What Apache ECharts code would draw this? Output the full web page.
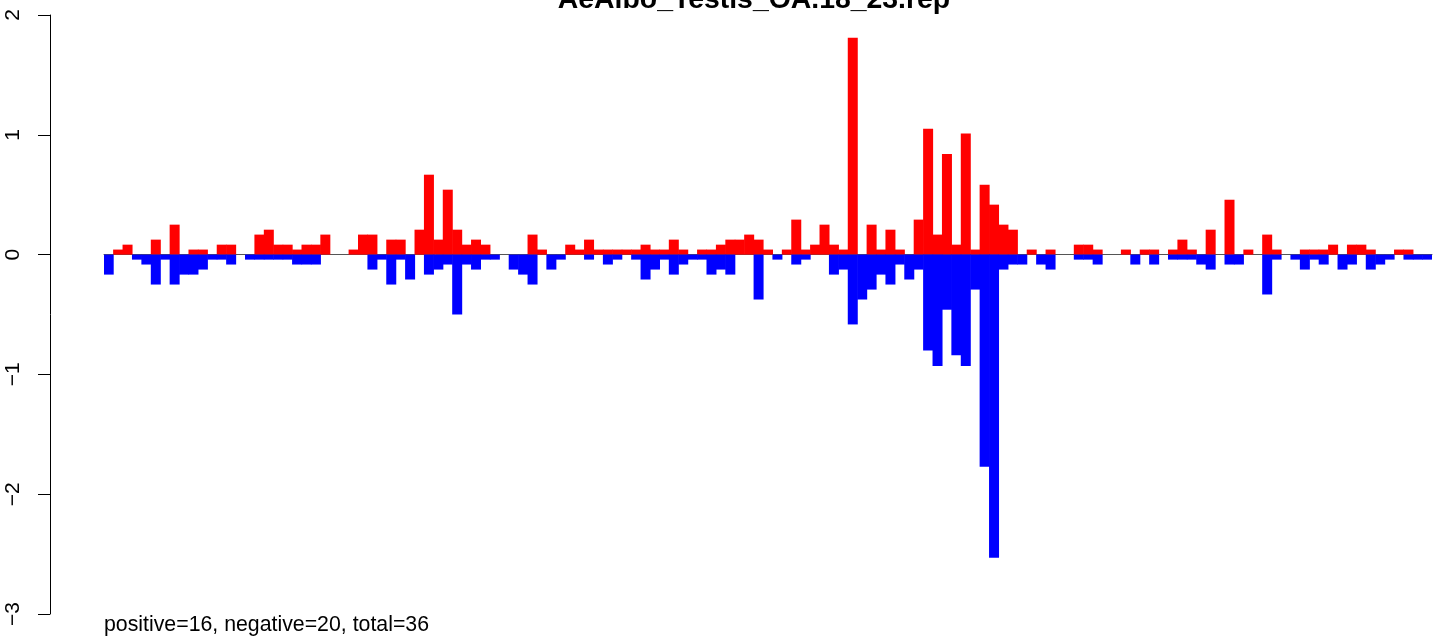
<!DOCTYPE html>
<html>
<head>
<meta charset="utf-8">
<script src="https://cdn.jsdelivr.net/npm/echarts@6/dist/echarts.min.js"></script>
<style>
  html, body { margin: 0; padding: 0; background: #ffffff; }
  #chart { width: 1441px; height: 638px; }
</style>
</head>
<body>
<div id="chart"></div>
<script>
// Values (units of the y axis)
const L = 1 / 24; // smallest step seen in the bars
const positiveLevels = [
  0,1,2,0,0,3,0,6,0,1, 1,0,2,2,0,0,4,5,2,2, 1,2,2,4,0,0,1,4,4,0,
  3,3,0,5,16,3,13,5,2,3, 2,0,0,0,0,4,1,0,0,2, 1,3,1,1,1,1,1,2,1,1,
  3,1,0,1,1,2,3,3,4,3, 1,0,1,7,1,2,6,2,1,null, 0,6,1,5,1,0,7,null,4,null,
  2,null,1,14,10,6,5,0,1,0, 1,0,0,2,2,1,0,0,1,0, 1,1,0,1,3,1,0,5,0,11,
  0,1,0,4,1,0,0,1,1,1, 2,0,2,2,1,0,0,1,1,0, 0
];
const positiveLarge = { 79: 1.81, 87: 1.05, 89: 0.84, 91: 1.01 };
const negativeLevels = [
  4,0,0,1,2,6,1,6,4,4, 3,1,1,2,0,1,1,1,1,1, 2,2,2,0,0,0,0,0,3,1,
  6,1,5,0,4,3,2,12,2,3, 1,1,0,3,4,6,0,3,1,0, 0,1,0,2,1,0,1,5,3,1,
  4,2,1,1,4,3,4,0,0,9, 0,1,0,2,1,0,0,4,3,14, 9,7,4,6,2,5,3,null,null,null,
  null,null,7,null,null,3,2,2,0,2, 3,0,0,1,1,2,0,0,0,2, 0,2,0,1,1,1,2,3,0,2,
  2,0,0,8,1,0,1,3,1,2, 0,3,2,0,3,2,1,0,1,1, 1
];
const negativeLarge = { 87: 0.80, 88: 0.93, 89: 0.46, 90: 0.84, 91: 0.93, 93: 1.77, 94: 2.53 };

const positiveValues = positiveLevels.map((v, i) =>
  positiveLarge[i] !== undefined ? positiveLarge[i] : +(v * L).toFixed(3));
const negativeValues = negativeLevels.map((v, i) =>
  negativeLarge[i] !== undefined ? -negativeLarge[i] : -(+(v * L).toFixed(3)));
const categories = positiveValues.map((_, i) => String(i + 1));

const yTicks = [-3, -2, -1, 0, 1, 2];
const titleText = 'AeAlbo_Testis_OA.18_23.rep';
const footText = 'positive=16, negative=20, total=36';

const FONT = '"Liberation Sans", Arial, Helvetica, sans-serif';

const chart = echarts.init(document.getElementById('chart'), null, { renderer: 'canvas' });
chart.setOption({
  animation: false,
  backgroundColor: '#ffffff',
  title: [
    {
      text: titleText,
      left: 754,
      top: -14,
      textAlign: 'center',
      padding: 0,
      textStyle: { fontFamily: FONT, fontWeight: 'bold', fontSize: 28.4, color: '#000' }
    },
    {
      text: footText,
      left: 104,
      top: 615,
      padding: 0,
      textStyle: { fontFamily: FONT, fontWeight: 'normal', fontSize: 21.3, color: '#000' }
    }
  ],
  grid: { left: 104, right: 9, top: 15, bottom: 24, containLabel: false },
  xAxis: {
    type: 'category',
    data: categories,
    axisLine: { show: true, onZero: true, lineStyle: { color: '#555555', width: 1 } },
    axisTick: { show: false },
    axisLabel: { show: false },
    splitLine: { show: false }
  },
  yAxis: {
    type: 'value',
    min: yTicks[0],
    max: yTicks[yTicks.length - 1],
    interval: 1,
    offset: 54,
    axisLine: { show: true, lineStyle: { color: '#000', width: 1 } },
    axisTick: { show: true, length: 12, lineStyle: { color: '#000', width: 1 } },
    axisLabel: {
      rotate: 90,
      margin: 26,
      fontFamily: FONT,
      fontSize: 21,
      color: '#000',
      formatter: v => (v < 0 ? '\u2212' + Math.abs(v) : String(v))
    },
    splitLine: { show: false }
  },
  series: [
    {
      name: 'positive',
      type: 'bar',
      data: positiveValues,
      barWidth: 10,
      barGap: '-100%',
      barCategoryGap: 0,
      itemStyle: { color: '#ff0000' },
      z: 2
    },
    {
      name: 'negative',
      type: 'bar',
      data: negativeValues,
      barWidth: 10,
      barGap: '-100%',
      barCategoryGap: 0,
      itemStyle: { color: '#0000ff' },
      z: 2
    }
  ]
});
</script>
</body>
</html>
